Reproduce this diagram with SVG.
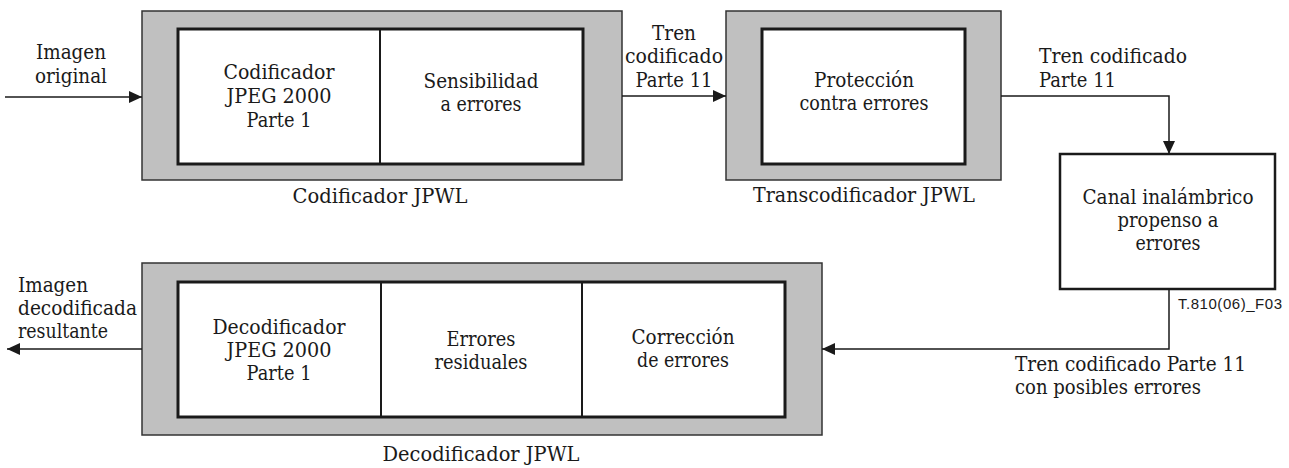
<svg xmlns="http://www.w3.org/2000/svg" width="1289" height="468" viewBox="0 0 1289 468">
<style>
text.t{font-family:"DejaVu Serif","Liberation Serif",serif;font-size:21px;fill:#1a1a1a}
text.m{text-anchor:middle}
.outer{fill:#c0c0c0;stroke:#333;stroke-width:1.5}
.inner{fill:#fff;stroke:#1a1a1a;stroke-width:3}
.div{stroke:#1a1a1a;stroke-width:2}
.ln{fill:none;stroke:#1a1a1a;stroke-width:1.5}
text.code{font-family:"Liberation Sans",Arial,sans-serif;font-size:15px;fill:#1a1a1a}
</style>
<defs>
<marker id="ah" markerWidth="13" markerHeight="12" refX="13" refY="6" orient="auto" markerUnits="userSpaceOnUse">
<path d="M0,0 L13,6 L0,12 Z" fill="#1a1a1a"/>
</marker>
</defs>
<g id="codificador">
<rect class="outer" x="142" y="11" width="480" height="169"/>
<rect class="inner" x="178" y="29" width="405" height="135"/>
<line class="div" x1="380" y1="29" x2="380" y2="164"/>
<text class="t m" x="279" y="79" textLength="111" lengthAdjust="spacingAndGlyphs">Codificador</text>
<text class="t m" x="279" y="103" textLength="105" lengthAdjust="spacingAndGlyphs">JPEG 2000</text>
<text class="t m" x="279" y="127" textLength="65" lengthAdjust="spacingAndGlyphs">Parte 1</text>
<text class="t m" x="481" y="88" textLength="115" lengthAdjust="spacingAndGlyphs">Sensibilidad</text>
<text class="t m" x="481" y="111" textLength="81" lengthAdjust="spacingAndGlyphs">a errores</text>
<text class="t m" x="380" y="203" textLength="175" lengthAdjust="spacingAndGlyphs">Codificador JPWL</text>
</g>
<g id="transcodificador">
<rect class="outer" x="726" y="11" width="275" height="169"/>
<rect class="inner" x="762" y="29" width="203" height="135"/>
<text class="t m" x="864" y="87" textLength="100" lengthAdjust="spacingAndGlyphs">Protección</text>
<text class="t m" x="864" y="110" textLength="129" lengthAdjust="spacingAndGlyphs">contra errores</text>
<text class="t m" x="864" y="202" textLength="222" lengthAdjust="spacingAndGlyphs">Transcodificador JPWL</text>
</g>
<g id="canal">
<rect class="inner" x="1060" y="154" width="215" height="135" style="stroke-width:2.5"/>
<text class="t m" x="1168" y="204" textLength="171" lengthAdjust="spacingAndGlyphs">Canal inalámbrico</text>
<text class="t m" x="1168" y="227" textLength="101" lengthAdjust="spacingAndGlyphs">propenso a</text>
<text class="t m" x="1168" y="250" textLength="65" lengthAdjust="spacingAndGlyphs">errores</text>
</g>
<g id="decodificador">
<rect class="outer" x="142" y="263" width="680" height="172"/>
<rect class="inner" x="178" y="282" width="607" height="135"/>
<line class="div" x1="381" y1="282" x2="381" y2="417"/>
<line class="div" x1="582" y1="282" x2="582" y2="417"/>
<text class="t m" x="279" y="334" textLength="133" lengthAdjust="spacingAndGlyphs">Decodificador</text>
<text class="t m" x="279" y="357" textLength="105" lengthAdjust="spacingAndGlyphs">JPEG 2000</text>
<text class="t m" x="279" y="380" textLength="65" lengthAdjust="spacingAndGlyphs">Parte 1</text>
<text class="t m" x="481" y="346" textLength="69" lengthAdjust="spacingAndGlyphs">Errores</text>
<text class="t m" x="481" y="369" textLength="93" lengthAdjust="spacingAndGlyphs">residuales</text>
<text class="t m" x="683" y="344" textLength="103" lengthAdjust="spacingAndGlyphs">Corrección</text>
<text class="t m" x="683" y="367" textLength="92" lengthAdjust="spacingAndGlyphs">de errores</text>
<text class="t m" x="481" y="461" textLength="197" lengthAdjust="spacingAndGlyphs">Decodificador JPWL</text>
</g>
<g id="conectores">
<line class="ln" x1="5" y1="97" x2="142" y2="97" marker-end="url(#ah)"/>
<line class="ln" x1="622" y1="96" x2="726" y2="96" marker-end="url(#ah)"/>
<polyline class="ln" points="1001,96 1169,96 1169,154" marker-end="url(#ah)"/>
<polyline class="ln" points="1169,289 1169,349 822,349" marker-end="url(#ah)"/>
<line class="ln" x1="142" y1="349" x2="7" y2="349" marker-end="url(#ah)"/>
</g>
<g id="etiquetas">
<text class="t m" x="71" y="59" textLength="70" lengthAdjust="spacingAndGlyphs">Imagen</text>
<text class="t m" x="71" y="83" textLength="72" lengthAdjust="spacingAndGlyphs">original</text>
<text class="t m" x="674" y="40" textLength="44" lengthAdjust="spacingAndGlyphs">Tren</text>
<text class="t m" x="674" y="63" textLength="98" lengthAdjust="spacingAndGlyphs">codificado</text>
<text class="t m" x="674" y="87" textLength="77" lengthAdjust="spacingAndGlyphs">Parte 11</text>
<text class="t" x="1039" y="63" textLength="148" lengthAdjust="spacingAndGlyphs">Tren codificado</text>
<text class="t" x="1039" y="87" textLength="77" lengthAdjust="spacingAndGlyphs">Parte 11</text>
<text class="t" x="1015" y="371" textLength="231" lengthAdjust="spacingAndGlyphs">Tren codificado Parte 11</text>
<text class="t" x="1015" y="394" textLength="186" lengthAdjust="spacingAndGlyphs">con posibles errores</text>
<text class="t" x="18" y="292" textLength="70" lengthAdjust="spacingAndGlyphs">Imagen</text>
<text class="t" x="18" y="315" textLength="119" lengthAdjust="spacingAndGlyphs">decodificada</text>
<text class="t" x="18" y="338" textLength="90" lengthAdjust="spacingAndGlyphs">resultante</text>
<text class="code" x="1178" y="309" textLength="104">T.810(06)_F03</text>
</g>
</svg>
